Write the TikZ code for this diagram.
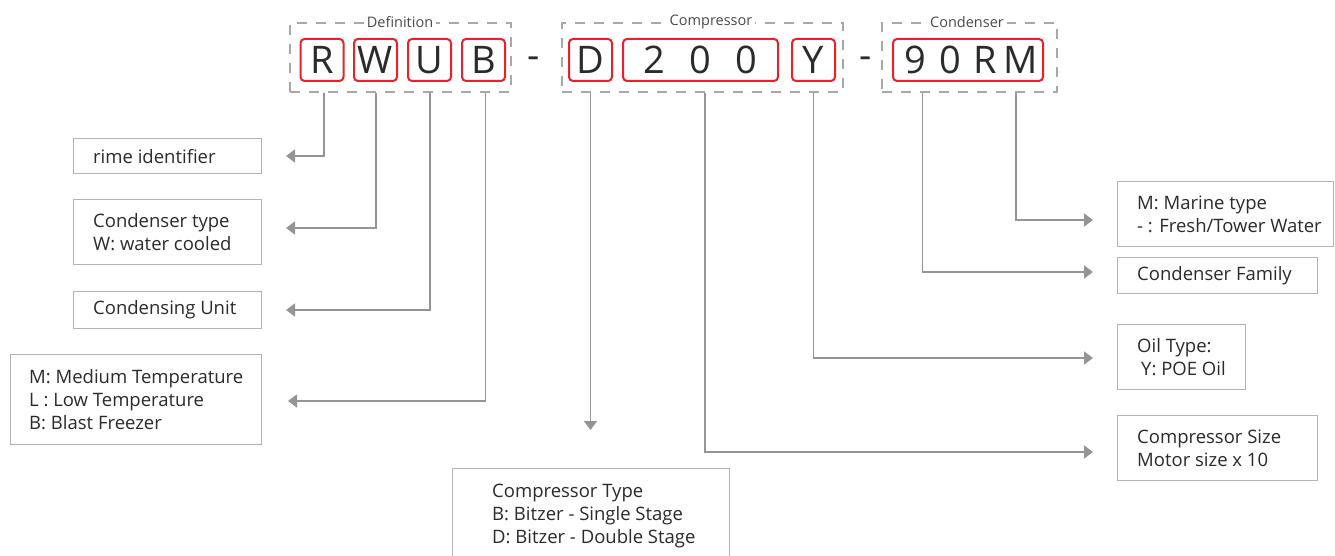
\documentclass[tikz,border=0pt]{standalone}
\usepackage{fontspec}
\setmainfont{Open Sans}
\usetikzlibrary{arrows.meta,calc}
\definecolor{redc}{HTML}{E8212B}
\definecolor{boxg}{HTML}{B4B4B4}
\definecolor{lineg}{HTML}{959595}
\definecolor{dashg}{HTML}{A8A8A8}
\definecolor{txtc}{HTML}{2B2B2B}
\begin{document}
\begin{tikzpicture}[x=1pt,y=-1pt,
  infobox/.style={draw=boxg, line width=1.3pt, anchor=north west, inner sep=0pt},
  infotext/.style={anchor=west, align=left, inner sep=0pt, text=txtc, font=\fontsize{18.5}{23}\selectfont},
  letter/.style={draw=redc, line width=2pt, rounded corners=4pt, minimum height=42pt, minimum width=43pt, inner sep=0pt, text=txtc, font=\fontsize{38}{40}\selectfont},
  grp/.style={draw=dashg, line width=1.4pt, dash pattern=on 10pt off 9pt, minimum height=69pt, inner sep=0pt},
  grplabel/.style={fill=white, inner xsep=3pt, inner ysep=1pt, text=txtc!85, font=\fontsize{14.5}{16}\selectfont},
  sep/.style={inner sep=0pt, text=txtc, font=\fontsize{38}{40}\selectfont},
  conn/.style={draw=lineg, line width=1.5pt, -{Triangle[length=9pt,width=13pt]}}
]
\useasboundingbox (0,0) rectangle (1335,556);
\clip (0,0) rectangle (1335,556);
\fill[white] (0,0) rectangle (1335,556);

% dashed groups
\node[grp, minimum width=221pt] (defg) at (400.5,57.5) {};
\node[grp, minimum width=281pt] (compg) at (702.5,57.5) {};
\node[grp, minimum width=175pt] (condg) at (969.5,57.5) {};
\node[grplabel] (ldef) at (400,22) {Definition};
\node[grplabel] (lcomp) at (711,22) {Compressor};
\node[grplabel] (lcond) at (967,22) {Condenser};

% letters
\node[letter] (R) at (322,60) {R};
\node[letter] (W) at (375.5,60) {W};
\node[letter] (U) at (429.5,60) {U};
\node[letter] (B) at (483.5,60) {B};
\node[sep] (s1) at (534,63) {-};
\node[letter] (D) at (590.5,60) {D};
\node[letter, minimum width=155pt] (N200) at (700.5,60) {\makebox[46pt]{2}\makebox[46pt]{0}\makebox[46pt]{0}};
\node[letter] (Y) at (813.5,60) {Y};
\node[sep] (s2) at (866,63) {-};
\node[letter, minimum width=150pt] (N90) at (968,60) {\makebox[35pt]{9}\makebox[35pt]{0}\makebox[35pt]{R}\makebox[35pt]{M}};

% left boxes
\node[infobox, minimum width=188pt, minimum height=35pt] (rime) at (73,138) {};
\node[infotext] (trime) at ([xshift=20pt]rime.west) {rime identifier};
\node[infobox, minimum width=188pt, minimum height=65pt] (ctype) at (73,199) {};
\node[infotext] (tctype) at ([xshift=20pt]ctype.west) {Condenser type\\W: water cooled};
\node[infobox, minimum width=188pt, minimum height=37pt] (cunit) at (73,291) {};
\node[infotext] (tcunit) at ([xshift=20pt]cunit.west) {Condensing Unit};
\node[infobox, minimum width=251pt, minimum height=90pt] (temp) at (10,354) {};
\node[infotext] (ttemp) at ([xshift=19pt]temp.west) {M: Medium Temperature\\L : Low Temperature\\B: Blast Freezer};

% bottom box
\node[infobox, minimum width=277pt, minimum height=94pt] (ctb) at (452,468) {};
\node[infotext] (tctb) at ([xshift=40pt]ctb.west) {Compressor Type\\B: Bitzer - Single Stage\\D: Bitzer - Double Stage};

% right boxes
\node[infobox, minimum width=216pt, minimum height=65pt] (marine) at (1117,181) {};
\node[infotext] (tmarine) at ([xshift=20pt]marine.west) {M: Marine type\\- : Fresh/Tower Water};
\node[infobox, minimum width=200pt, minimum height=36pt] (cfam) at (1117,257) {};
\node[infotext] (tcfam) at ([xshift=20pt]cfam.west) {Condenser Family};
\node[infobox, minimum width=128pt, minimum height=65pt] (oil) at (1117,324) {};
\node[infotext] (toil) at ([xshift=20pt]oil.west) {Oil Type:\\\hspace*{4pt}Y: POE Oil};
\node[infobox, minimum width=200pt, minimum height=65pt] (csize) at (1117,415) {};
\node[infotext] (tcsize) at ([xshift=20pt]csize.west) {Compressor Size\\Motor size x 10};

% arrow tips
\coordinate (aR) at (286,156);
\coordinate (aW) at (286,228);
\coordinate (aU) at (286,310);
\coordinate (aB) at (288,401);
\coordinate (aD) at (590.5,430);
\coordinate (a200) at (1093,452);
\coordinate (aY) at (1093,358);
\coordinate (a9) at (1093,272);
\coordinate (aM) at (1093,220);

% connectors
\draw[conn] ([xshift=2pt]R.south |- defg.south) |- (aR);
\draw[conn] ([xshift=0.5pt]W.south |- defg.south) |- (aW);
\draw[conn] ([xshift=0.5pt]U.south |- defg.south) |- (aU);
\draw[conn] ([xshift=2pt]B.south |- defg.south) |- (aB);
\draw[conn] (D.south |- compg.south) -- (aD);
\draw[conn] ([xshift=4.5pt]N200.south |- compg.south) |- (a200);
\draw[conn] (Y.south |- compg.south) |- (aY);
\draw[conn] ([xshift=-45.5pt]N90.south |- condg.south) |- (a9);
\draw[conn] ([xshift=48pt]N90.south |- condg.south) |- (aM);
\end{tikzpicture}
\end{document}
